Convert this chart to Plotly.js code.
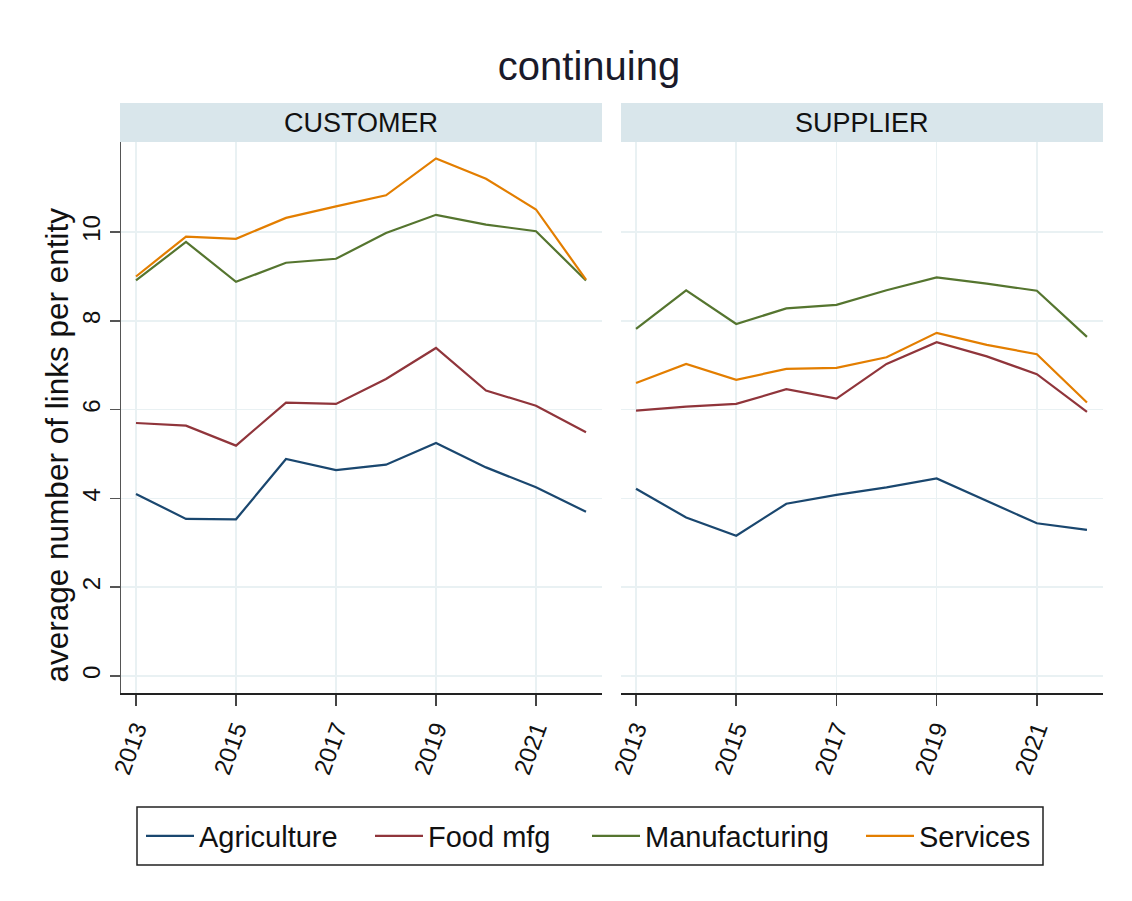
<!DOCTYPE html>
<html><head><meta charset="utf-8">
<script src="https://cdn.plot.ly/plotly-3.0.1.min.js"></script>
<style>html,body{margin:0;padding:0;background:#fff}</style>
</head><body>
<div id="chart" style="width:1132px;height:901px"></div>
<script>
// ---- data ----
const years = [2013, 2014, 2015, 2016, 2017, 2018, 2019, 2020, 2021, 2022];
const sectors = ["Agriculture", "Food mfg", "Manufacturing", "Services"];
const panels = ["CUSTOMER", "SUPPLIER"];
const xTicks = [2013, 2015, 2017, 2019, 2021];
const yTicks = [0, 2, 4, 6, 8, 10];
const custAgriculture   = [4.10, 3.54, 3.53, 4.89, 4.64, 4.76, 5.25, 4.70, 4.25, 3.70];
const custFood          = [5.70, 5.64, 5.19, 6.16, 6.13, 6.69, 7.39, 6.43, 6.09, 5.49];
const custManufacturing = [8.91, 9.78, 8.88, 9.31, 9.40, 9.98, 10.39, 10.17, 10.02, 8.91];
const custServices      = [9.00, 9.90, 9.85, 10.32, 10.58, 10.83, 11.66, 11.20, 10.51, 8.93];
const suppAgriculture   = [4.22, 3.57, 3.16, 3.88, 4.08, 4.25, 4.45, 3.95, 3.44, 3.29];
const suppFood          = [5.98, 6.07, 6.13, 6.46, 6.25, 7.03, 7.52, 7.20, 6.80, 5.95];
const suppManufacturing = [7.82, 8.69, 7.93, 8.28, 8.36, 8.69, 8.98, 8.84, 8.68, 7.64];
const suppServices      = [6.60, 7.03, 6.67, 6.92, 6.94, 7.18, 7.73, 7.46, 7.25, 6.16];
const yTitle = "average number of links per entity";
const chartTitle = "continuing";

// ---- styling ----
const colors = ["#1a476f", "#90353b", "#55752f", "#e37e00"];
const FONT = "Liberation Sans, Arial, Helvetica, sans-serif";
const W = 1132, H = 901;
const px = v => v / W;
const py = v => 1 - v / H;

const custSeries = [custAgriculture, custFood, custManufacturing, custServices];
const suppSeries = [suppAgriculture, suppFood, suppManufacturing, suppServices];
const legendIds = ["legend", "legend2", "legend3", "legend4"];

const traces = [];
sectors.forEach((name, i) => {
  traces.push({
    x: years, y: custSeries[i], type: "scatter", mode: "lines", name: name,
    line: {color: colors[i], width: 2.2}, xaxis: "x", yaxis: "y",
    legend: legendIds[i], showlegend: true, hoverinfo: "skip"
  });
});
sectors.forEach((name, i) => {
  traces.push({
    x: years, y: suppSeries[i], type: "scatter", mode: "lines", name: name,
    line: {color: colors[i], width: 2.2}, xaxis: "x2", yaxis: "y2",
    legend: legendIds[i], showlegend: false, hoverinfo: "skip"
  });
});

const xr = [2012.7, 2022.32];
const yr = [-0.383, 12.03];
const grid = "#e9f1f3";

function xAxis(domain, anchor) {
  return {
    domain: domain, anchor: anchor, range: xr, tickmode: "array", tickvals: xTicks,
    ticktext: xTicks.map(String),
    tickangle: -70, ticks: "outside", ticklen: 11, tickwidth: 1.5, tickcolor: "#444",
    showline: true, linecolor: "#222", linewidth: 1.5, showgrid: true, gridcolor: grid,
    gridwidth: 1.5, zeroline: false, tickfont: {family: FONT, size: 24, color: "#111"},
    fixedrange: true, automargin: false
  };
}

const layout = {
  width: W, height: H,
  margin: {l: 0, r: 0, t: 0, b: 0},
  paper_bgcolor: "#ffffff", plot_bgcolor: "#ffffff",
  font: {family: FONT, color: "#111"},
  title: {text: chartTitle, font: {family: FONT, size: 40, color: "#1a1a2a"},
          x: px(589), xanchor: "center", xref: "paper", y: py(66), yanchor: "middle", yref: "container"},
  xaxis: xAxis([px(121), px(602)], "y"),
  xaxis2: xAxis([px(621), px(1103)], "y2"),
  yaxis: {
    domain: [py(693), py(142)], anchor: "x", range: yr, tickmode: "array", tickvals: yTicks,
    ticktext: yTicks.map(String),
    tickangle: -90, ticks: "outside", ticklen: 10, tickwidth: 1.5, tickcolor: "#555",
    showline: true, linecolor: "#555", linewidth: 1.5, showgrid: true, gridcolor: grid, gridwidth: 1.5,
    zeroline: false, tickfont: {family: FONT, size: 24, color: "#111"}, fixedrange: true, automargin: false
  },
  yaxis2: {
    domain: [py(693), py(142)], anchor: "x2", range: yr, tickmode: "array", tickvals: yTicks,
    showticklabels: false, ticks: "", showline: false, showgrid: true, gridcolor: grid, gridwidth: 1.5,
    zeroline: false, fixedrange: true, automargin: false
  },
  shapes: [
    {type: "rect", xref: "paper", yref: "paper", x0: px(120), x1: px(602), y0: py(142), y1: py(103),
     fillcolor: "#d9e6eb", line: {width: 0}, layer: "below"},
    {type: "rect", xref: "paper", yref: "paper", x0: px(621), x1: px(1103), y0: py(142), y1: py(103),
     fillcolor: "#d9e6eb", line: {width: 0}, layer: "below"},
    {type: "rect", xref: "paper", yref: "paper", x0: px(137), x1: px(1043), y0: py(865), y1: py(807),
     fillcolor: "rgba(0,0,0,0)", line: {width: 1.5, color: "#222"}}
  ],
  annotations: [
    {text: panels[0], xref: "paper", yref: "paper", x: px(361), y: py(122.5), xanchor: "center", yanchor: "middle",
     showarrow: false, font: {family: FONT, size: 27, color: "#111"}},
    {text: panels[1], xref: "paper", yref: "paper", x: px(862), y: py(122.5), xanchor: "center", yanchor: "middle",
     showarrow: false, font: {family: FONT, size: 27, color: "#111"}},
    {text: yTitle, xref: "paper", yref: "paper", x: px(57), y: py(445.5), xanchor: "center", yanchor: "middle",
     textangle: -90, showarrow: false, font: {family: FONT, size: 31.5, color: "#111"}}
  ]
};

const legendLeft = [141, 370, 587, 861];
legendIds.forEach((id, i) => {
  layout[id] = {
    x: px(legendLeft[i]), xanchor: "left", xref: "paper",
    y: py(836), yanchor: "middle", yref: "paper",
    orientation: "h", bgcolor: "rgba(0,0,0,0)", borderwidth: 0, itemwidth: 48,
    font: {family: FONT, size: 29, color: "#111"}
  };
});

Plotly.newPlot("chart", traces, layout, {displayModeBar: false, staticPlot: true});
</script>
</body></html>
